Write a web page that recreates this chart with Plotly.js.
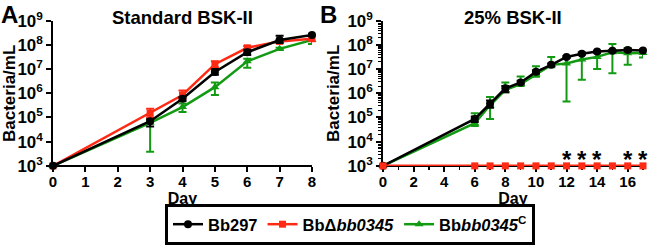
<!DOCTYPE html>
<html>
<head>
<meta charset="utf-8">
<script src="https://cdn.plot.ly/plotly-3.0.1.min.js"></script>
<style>html,body{margin:0;padding:0;background:#fff;}#chart{width:650px;height:245px;}</style>
</head>
<body>
<div id="chart"></div>
<script>
// ---------- Data ----------
const daysA = [0, 3, 4, 5, 6, 7, 8];
const bb297A    = [1e3, 7e4,   6e5,   7.6e6, 5e7,    1.6e8,  2.6e8];
const bb297A_hi = [1e3, 8.5e4, 7e5,   1e7,   6.3e7,  2.4e8,  2.9e8];
const bb297A_lo = [1e3, 4.2e4, 4.8e5, 5.8e6, 3.8e7,  1.2e8,  2.4e8];
const deltaA    = [1e3, 1.5e5, 8.5e5, 1.6e7, 7.6e7,  1.4e8,  1.8e8];
const deltaA_hi = [1e3, 2.3e5, 1.3e6, 2.1e7, 9e7,    1.6e8,  2e8];
const deltaA_lo = [1e3, 1e5,   6e5,   1.2e7, 6.5e7,  1.25e8, 1.6e8];
const compA     = [1e3, 6e4,   2.7e5, 1.8e6, 2.1e7,  6.9e7,  1.6e8];
const compA_hi  = [1e3, 8e4,   3.8e5, 2.8e6, 2.7e7,  7.6e7,  1.8e8];
const compA_lo  = [1e3, 3.8e3, 1.7e5, 8.5e5, 1.15e7, 6.2e7,  1.1e8];

const daysB = [0, 6, 7, 8, 9, 10, 11, 12, 13, 14, 15, 16, 17];
const bb297B    = [1e3, 8.7e4, 3.7e5, 1.6e6, 2.8e6, 7.7e6, 1.5e7, 3.2e7, 4.3e7, 5.4e7, 5.7e7, 6.2e7, 5.9e7];
const bb297B_hi = [1e3, 1.1e5, 5e5,   2e6,   3.3e6, 9e6,   1.7e7, 3.5e7, 4.8e7, 5.8e7, 6.2e7, 7e7,   6.4e7];
const bb297B_lo = [1e3, 6.5e4, 2.5e5, 1.1e6, 2.4e6, 6.5e6, 1.3e7, 2.9e7, 3.9e7, 5e7,   5.2e7, 5.5e7, 5.4e7];
const deltaB    = [1e3, 1e3, 1e3, 1e3, 1e3, 1e3, 1e3, 1e3, 1e3, 1e3, 1e3, 1e3, 1e3];
const compB     = [1e3, 5.8e4, 3.2e5, 1.4e6, 2.4e6, 6.2e6, 1.5e7, 1.7e7, 2.5e7, 3.2e7, 5e7,   4.5e7, 4.6e7];
const compB_hi  = [1e3, 1.5e5, 7e5,   2.8e6, 4.9e6, 1.3e7, 3.2e7, 3e7,   5e7,   4.5e7, 1.1e8, 7.5e7, 5.5e7];
const compB_lo  = [1e3, 4.5e4, 8.6e4, 1.1e6, 2e6,   4.8e6, 1.2e7, 4.6e5, 3.6e6, 1e7,   6.8e6, 1.5e7, 3e7];

const starDays = [12, 13, 14, 16, 17];
const starLevel = 3.47; // log10 position of the asterisks

const names = ['Bb297', 'Bb\u0394<i>bb0345</i>', 'Bb<i>bb0345</i><sup>C</sup>'];
const titles = ['Standard BSK-II', '25% BSK-II'];
const panelLabels = ['A', 'B'];

// ---------- Styles ----------
const FONT = 'Liberation Sans, Arial, sans-serif';
const colors = ['#000000', '#ff2a14', '#139a13'];
const symbols = ['circle', 'square', 'triangle-up'];
const msize = [8, 7, 8];

function errs(y, hi, lo) {
  return {
    type: 'data', symmetric: false,
    array: y.map((v, i) => hi[i] - v),
    arrayminus: y.map((v, i) => v - lo[i]),
    thickness: 2, width: 4
  };
}
function trace(k, x, y, hi, lo, xa, ya, show) {
  const t = {
    x: x, y: y, xaxis: xa, yaxis: ya, type: 'scatter', mode: 'lines+markers',
    name: names[k], legendgroup: 'g' + k, showlegend: show, legendrank: k + 1,
    line: {color: colors[k], width: 2.5},
    marker: {color: colors[k], symbol: symbols[k], size: msize[k]},
    cliponaxis: false
  };
  if (hi) { t.error_y = Object.assign(errs(y, hi, lo), {color: colors[k]}); }
  return t;
}

const data = [
  trace(2, daysA, compA, compA_hi, compA_lo, 'x', 'y', true),
  trace(1, daysA, deltaA, deltaA_hi, deltaA_lo, 'x', 'y', true),
  trace(0, daysA, bb297A, bb297A_hi, bb297A_lo, 'x', 'y', true),
  trace(2, daysB, compB, compB_hi, compB_lo, 'x2', 'y2', false),
  trace(0, daysB, bb297B, bb297B_hi, bb297B_lo, 'x2', 'y2', false),
  trace(1, daysB, deltaB, null, null, 'x2', 'y2', false)
];

const W = 650, H = 245;
const axBase = {
  showline: true, linecolor: '#000', linewidth: 2.5, mirror: false,
  ticks: 'outside', ticklen: 5, tickwidth: 2, tickcolor: '#000',
  showgrid: false, zeroline: false, layer: 'below traces',
  tickfont: {family: FONT, size: 13.5, color: '#000', weight: 'bold'}
};
const yTop = 1 - 21 / H, yBot = 1 - 168 / H;

function xaxis(domain, range, dtick, minor) {
  const a = Object.assign({}, axBase, {
    domain: domain, range: range, dtick: dtick, tick0: 0, anchor: 'free', position: yBot,
    ticklabelstandoff: -3,
    tickfont: {family: FONT, size: 15, color: '#000', weight: 'bold'},
    title: {text: 'Day', font: {family: FONT, size: 16, color: '#000', weight: 'bold'}, standoff: 0}
  });
  if (minor) a.minor = {dtick: 1, ticks: 'outside', ticklen: 3, tickwidth: 1.5, tickcolor: '#000', showgrid: false};
  return a;
}
function yaxis(xanchor, minor) {
  const a = Object.assign({}, axBase, {
    type: 'log', domain: [yBot, yTop], range: [2.997, 9], dtick: 1, exponentformat: 'power',
    anchor: xanchor,
    title: {text: 'Bacteria/mL', font: {family: FONT, size: 17, color: '#000', weight: 'bold'}, standoff: 4}
  });
  if (minor) a.minor = {dtick: 'D1', ticks: 'outside', ticklen: 3, tickwidth: 1, tickcolor: '#000', showgrid: false};
  return a;
}

const annotations = [];
const panelCenters = [(53 + 312) / 2 / W, (383 + 643) / 2 / W];
titles.forEach((t, i) => annotations.push({
  text: t, xref: 'paper', yref: 'paper', x: panelCenters[i], y: 1 - 18 / H,
  xanchor: 'center', yanchor: 'middle', showarrow: false,
  font: {family: FONT, size: 18.5, color: '#000', weight: 'bold'}
}));
const labelX = [0, 319 / W];
panelLabels.forEach((t, i) => annotations.push({
  text: t, xref: 'paper', yref: 'paper', x: labelX[i], y: 1,
  xanchor: 'left', yanchor: 'top', showarrow: false, borderpad: 0,
  font: {family: FONT, size: 24, color: '#000', weight: 'bold'}
}));
starDays.forEach(d => annotations.push({
  text: '*', xref: 'x2', yref: 'y2', x: d, y: starLevel, yshift: -5,
  xanchor: 'center', yanchor: 'middle', showarrow: false,
  font: {family: FONT, size: 24, color: '#000', weight: 'bold'}
}));

const layout = {
  width: W, height: H,
  margin: {l: 0, r: 0, t: 0, b: 0},
  paper_bgcolor: '#fff', plot_bgcolor: '#fff',
  font: {family: FONT, color: '#000'},
  xaxis: xaxis([53 / W, 312 / W], [0, 8], 1, false),
  yaxis: yaxis('x', false),
  xaxis2: xaxis([383 / W, 643 / W], [0, 17], 2, true),
  yaxis2: yaxis('x2', true),
  showlegend: true,
  legend: {
    orientation: 'h', x: 350 / W, xanchor: 'center', y: -3 / H, yanchor: 'bottom',
    bordercolor: '#000', borderwidth: 3, bgcolor: '#fff',
    font: {family: FONT, size: 16.5, color: '#000', weight: 'bold'},
    traceorder: 'normal', itemwidth: 30
  },
  annotations: annotations
};

Plotly.newPlot('chart', data, layout, {displayModeBar: false, staticPlot: true});
</script>
</body>
</html>
